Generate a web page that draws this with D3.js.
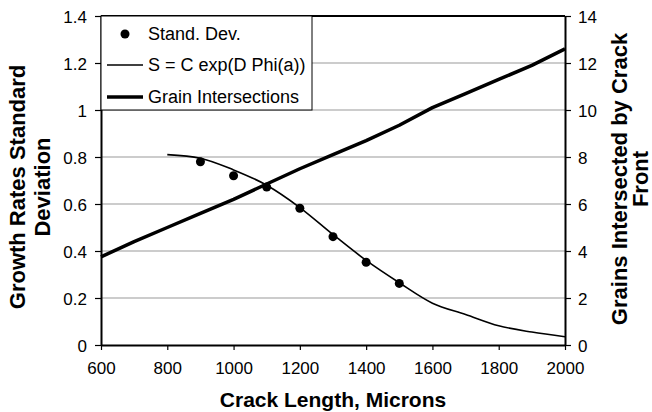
<!DOCTYPE html>
<html>
<head>
<meta charset="utf-8">
<script src="https://cdn.jsdelivr.net/npm/d3@7"></script>
<style>
  body { margin: 0; background: #fff; }
  svg { font-family: "Liberation Sans", Arial, sans-serif; }
</style>
</head>
<body>
<svg width="652" height="412"></svg>
<script>
// data
const devLength = [900, 1000, 1100, 1200, 1300, 1400, 1500];
const devValues = [0.78, 0.72, 0.672, 0.582, 0.461, 0.352, 0.262];

const fitLength = [800, 900, 1000, 1100, 1200, 1300, 1400, 1500, 1600, 1700, 1800, 1900, 2000];
const fitValues = [0.81, 0.795, 0.745, 0.68, 0.585, 0.47, 0.36, 0.265, 0.178, 0.13, 0.082, 0.055, 0.035];

const grainLength = [600, 700, 800, 900, 1000, 1100, 1200, 1300, 1400, 1500, 1600, 1700, 1800, 1900, 2000];
const grainValues = [3.75, 4.4, 5.0, 5.6, 6.2, 6.85, 7.5, 8.1, 8.7, 9.35, 10.1, 10.7, 11.3, 11.9, 12.6];

const xTicks = [600, 800, 1000, 1200, 1400, 1600, 1800, 2000];
const leftTicks = [0, 0.2, 0.4, 0.6, 0.8, 1, 1.2, 1.4];
const rightTicks = [0, 2, 4, 6, 8, 10, 12, 14];

const legendLabels = ["Stand. Dev.", "S = C exp(D Phi(a))", "Grain Intersections"];

// plot box
const plotLeft = 101, plotRight = 565, plotTop = 16, plotBottom = 345;

const svg = d3.select("svg");

const x = d3.scaleLinear().domain([600, 2000]).range([plotLeft, plotRight]);
const yL = d3.scaleLinear().domain([0, 1.4]).range([plotBottom, plotTop]);
const yR = d3.scaleLinear().domain([0, 14]).range([plotBottom, plotTop]);

// gridlines
svg.append("g")
    .selectAll("line")
    .data(leftTicks.filter(d => d > 0 && d < 1.4))
    .enter()
    .append("line")
    .attr("x1", plotLeft).attr("x2", plotRight)
    .attr("y1", d => yL(d)).attr("y2", d => yL(d))
    .attr("stroke", "#999")
    .attr("stroke-width", 1.2);

// frame top
svg.append("line")
    .attr("x1", plotLeft).attr("x2", plotRight)
    .attr("y1", plotTop).attr("y2", plotTop)
    .attr("stroke", "#000").attr("stroke-width", 2);

// axes
const tickFont = g => g.selectAll("text")
    .style("font-size", "17px")
    .attr("fill", "#000");

const xAxis = svg.append("g")
    .attr("transform", `translate(0,${plotBottom})`)
    .call(d3.axisBottom(x).tickValues(xTicks).tickFormat(d3.format("d")).tickSize(5).tickPadding(12).tickSizeOuter(0));
xAxis.call(tickFont);

const leftAxis = svg.append("g")
    .attr("transform", `translate(${plotLeft},0)`)
    .call(d3.axisLeft(yL).tickValues(leftTicks).tickFormat(d3.format("")).tickSize(6).tickPadding(8).tickSizeOuter(0));
leftAxis.call(tickFont);

const rightAxis = svg.append("g")
    .attr("transform", `translate(${plotRight},0)`)
    .call(d3.axisRight(yR).tickValues(rightTicks).tickSize(6).tickPadding(7).tickSizeOuter(0));
rightAxis.call(tickFont);

svg.selectAll(".domain").attr("stroke", "#000").attr("stroke-width", 2);
svg.selectAll(".tick line").attr("stroke", "#000").attr("stroke-width", 1.2);
svg.selectAll(".tick text").attr("dy", "0.36em");
xAxis.selectAll(".tick text").attr("dy", "0.71em");

// grain intersections, thick line
const grainLine = d3.line()
    .x((d, i) => x(grainLength[i]))
    .y(d => yR(d));

svg.append("path")
    .datum(grainValues)
    .attr("d", grainLine)
    .attr("fill", "none")
    .attr("stroke", "#000")
    .attr("stroke-width", 3.5)
    .attr("stroke-linejoin", "round");

// fit curve, thin
const fitLine = d3.line()
    .x((d, i) => x(fitLength[i]))
    .y(d => yL(d))
    .curve(d3.curveMonotoneX);

svg.append("path")
    .datum(fitValues)
    .attr("d", fitLine)
    .attr("fill", "none")
    .attr("stroke", "#000")
    .attr("stroke-width", 1.6);

// std dev markers
svg.selectAll("circle.dev")
    .data(devValues)
    .enter()
    .append("circle")
    .attr("class", "dev")
    .attr("cx", (d, i) => x(devLength[i]))
    .attr("cy", d => yL(d))
    .attr("r", 4.5)
    .attr("fill", "#000");

// legend
const legend = svg.append("g");
legend.append("rect")
    .attr("x", plotLeft).attr("y", plotTop)
    .attr("width", 211).attr("height", 94)
    .attr("fill", "#fff")
    .attr("stroke", "#000")
    .attr("stroke-width", 1);

const rowY = [34, 65, 97];
legend.append("circle")
    .attr("cx", 125).attr("cy", rowY[0]).attr("r", 4.5).attr("fill", "#000");
legend.append("line")
    .attr("x1", 107).attr("x2", 143).attr("y1", rowY[1]).attr("y2", rowY[1])
    .attr("stroke", "#000").attr("stroke-width", 1.6);
legend.append("line")
    .attr("x1", 107).attr("x2", 143).attr("y1", rowY[2]).attr("y2", rowY[2])
    .attr("stroke", "#000").attr("stroke-width", 3.5);
legend.selectAll("text")
    .data(legendLabels)
    .enter()
    .append("text")
    .attr("x", 148)
    .attr("y", (d, i) => rowY[i] + 6)
    .style("font-size", "18px")
    .text(d => d);

// axis titles
svg.append("text")
    .attr("x", (plotLeft + plotRight) / 2)
    .attr("y", 407)
    .attr("text-anchor", "middle")
    .style("font-size", "21px")
    .style("font-weight", "bold")
    .text("Crack Length, Microns");

const leftTitle = svg.append("text")
    .attr("transform", "translate(25,187) rotate(-90)")
    .attr("text-anchor", "middle")
    .style("font-size", "22px")
    .style("font-weight", "bold");
leftTitle.append("tspan").attr("x", 0).attr("y", 0).text("Growth Rates Standard");
leftTitle.append("tspan").attr("x", 0).attr("y", 25).text("Deviation");

const rightTitle = svg.append("text")
    .attr("transform", "translate(627,179) rotate(-90)")
    .attr("text-anchor", "middle")
    .style("font-size", "22px")
    .style("font-weight", "bold");
rightTitle.append("tspan").attr("x", 0).attr("y", 0).text("Grains Intersected by Crack");
rightTitle.append("tspan").attr("x", 0).attr("y", 21).text("Front");
</script>
</body>
</html>
